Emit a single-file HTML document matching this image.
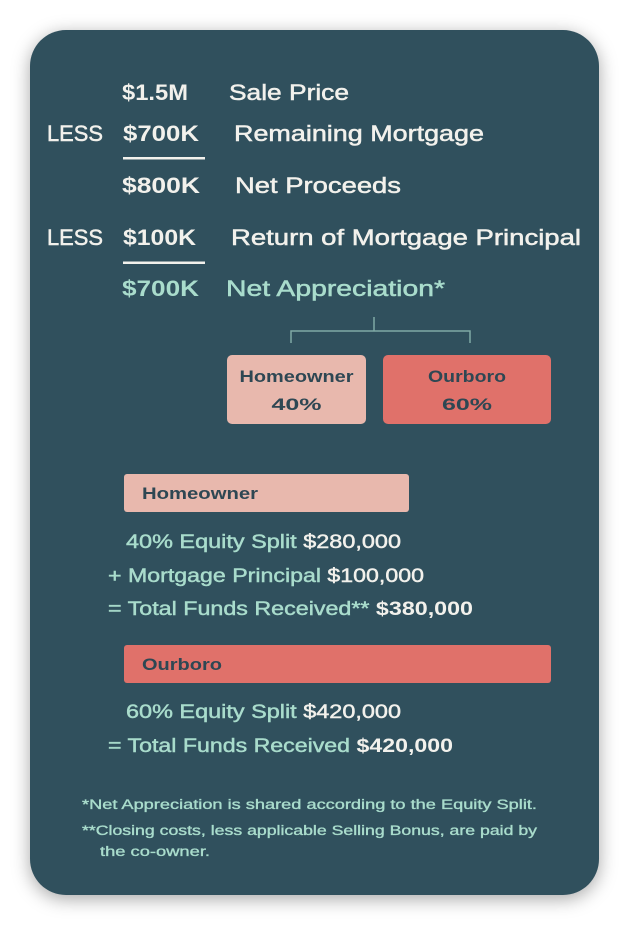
<!DOCTYPE html>
<html><head><meta charset="utf-8"><style>
html,body{margin:0;padding:0;background:#fff;width:629px;height:926px;overflow:hidden}
#card{position:absolute;left:30px;top:30px;width:569px;height:865px;border-radius:36px;background:#30505d;box-shadow:0 4px 18px rgba(0,0,0,0.35)}
svg{position:absolute;left:0;top:0}
text{font-family:"Liberation Sans",sans-serif}
.w{fill:#f2f1ec;font-size:22px;stroke:#f2f1ec;stroke-width:0.5px}
.wb{fill:#f2f1ec;font-size:22px;font-weight:bold}
.m{fill:#a9dccc;font-size:19px;stroke:#a9dccc;stroke-width:0.45px}
.mb{fill:#a9dccc;font-size:22px;font-weight:bold}
.d{fill:#2e4753;font-weight:bold;font-size:17px}
.f{fill:#a9dccc;font-size:13.5px;stroke:#a9dccc;stroke-width:0.35px}
.wv{fill:#f2f1ec;font-size:19px;stroke:#f2f1ec;stroke-width:0.45px}
.wvb{fill:#f2f1ec;font-size:19px;font-weight:bold}
</style></head><body>
<div id="card"></div>
<svg width="629" height="926">
<g>
<text class="wb" x="122" y="100" textLength="66" lengthAdjust="spacingAndGlyphs">$1.5M</text>
<text class="w" x="229" y="100" textLength="120" lengthAdjust="spacingAndGlyphs">Sale Price</text></g>
<g>
<text class="w" x="47" y="141" textLength="56" lengthAdjust="spacingAndGlyphs">LESS</text>
<text class="wb" x="123" y="141" textLength="76" lengthAdjust="spacingAndGlyphs">$700K</text>
<text class="w" x="234" y="141" textLength="250" lengthAdjust="spacingAndGlyphs">Remaining Mortgage</text>
<rect x="123" y="157" width="82" height="2.5" fill="#f2f1ec"/></g>
<g>
<text class="wb" x="122" y="193" textLength="78" lengthAdjust="spacingAndGlyphs">$800K</text>
<text class="w" x="235" y="193" textLength="166" lengthAdjust="spacingAndGlyphs">Net Proceeds</text></g>
<g>
<text class="w" x="47" y="245" textLength="56" lengthAdjust="spacingAndGlyphs">LESS</text>
<text class="wb" x="123" y="245" textLength="73" lengthAdjust="spacingAndGlyphs">$100K</text>
<text class="w" x="231" y="245" textLength="350" lengthAdjust="spacingAndGlyphs">Return of Mortgage Principal</text>
<rect x="123" y="261.5" width="82" height="2.5" fill="#f2f1ec"/></g>
<g>
<text class="mb" x="122" y="296" textLength="77" lengthAdjust="spacingAndGlyphs">$700K</text>
<text class="mb" style="font-weight:normal;stroke:#a9dccc;stroke-width:0.5px" x="226" y="296" textLength="219" lengthAdjust="spacingAndGlyphs">Net Appreciation*</text></g>
<path d="M374 317V331M291 343V331H470V343" stroke="#7fa9a5" stroke-width="1.5" fill="none"/>
<g>
<rect x="227" y="355" width="139" height="69" rx="5" fill="#e8b8ad"/>
<text class="d" x="296.5" y="382" text-anchor="middle" textLength="114" lengthAdjust="spacingAndGlyphs">Homeowner</text>
<text class="d" x="296.5" y="410" text-anchor="middle" font-size="19" textLength="50" lengthAdjust="spacingAndGlyphs">40%</text></g>
<g>
<rect x="383" y="355" width="168" height="69" rx="5" fill="#e0716a"/>
<text class="d" x="467" y="382" text-anchor="middle" textLength="78" lengthAdjust="spacingAndGlyphs">Ourboro</text>
<text class="d" x="467" y="410" text-anchor="middle" font-size="19" textLength="50" lengthAdjust="spacingAndGlyphs">60%</text></g>
<g>
<rect x="124" y="474" width="285" height="38" rx="3" fill="#e8b8ad"/>
<text class="d" x="142" y="499" textLength="116" lengthAdjust="spacingAndGlyphs">Homeowner</text>
<text x="126" y="548" textLength="275" lengthAdjust="spacingAndGlyphs"><tspan class="m">40% Equity Split </tspan><tspan class="wv">$280,000</tspan></text>
<text x="108" y="582" textLength="316" lengthAdjust="spacingAndGlyphs"><tspan class="m">+ Mortgage Principal </tspan><tspan class="wv">$100,000</tspan></text>
<text x="108" y="615" textLength="365" lengthAdjust="spacingAndGlyphs"><tspan class="m">= Total Funds Received** </tspan><tspan class="wvb">$380,000</tspan></text></g>
<g>
<rect x="124" y="645" width="427" height="38" rx="3" fill="#e0716a"/>
<text class="d" x="142" y="670" textLength="80" lengthAdjust="spacingAndGlyphs">Ourboro</text>
<text x="126" y="718" textLength="275" lengthAdjust="spacingAndGlyphs"><tspan class="m">60% Equity Split </tspan><tspan class="wv">$420,000</tspan></text>
<text x="108" y="752" textLength="345" lengthAdjust="spacingAndGlyphs"><tspan class="m">= Total Funds Received </tspan><tspan class="wvb">$420,000</tspan></text></g>
<g>
<text class="f" x="82" y="809" textLength="455" lengthAdjust="spacingAndGlyphs">*Net Appreciation is shared according to the Equity Split.</text>
<text class="f" x="82" y="835" textLength="455" lengthAdjust="spacingAndGlyphs">**Closing costs, less applicable Selling Bonus, are paid by</text>
<text class="f" x="100" y="856" textLength="110" lengthAdjust="spacingAndGlyphs">the co-owner.</text></g>
</svg>
</body></html>
